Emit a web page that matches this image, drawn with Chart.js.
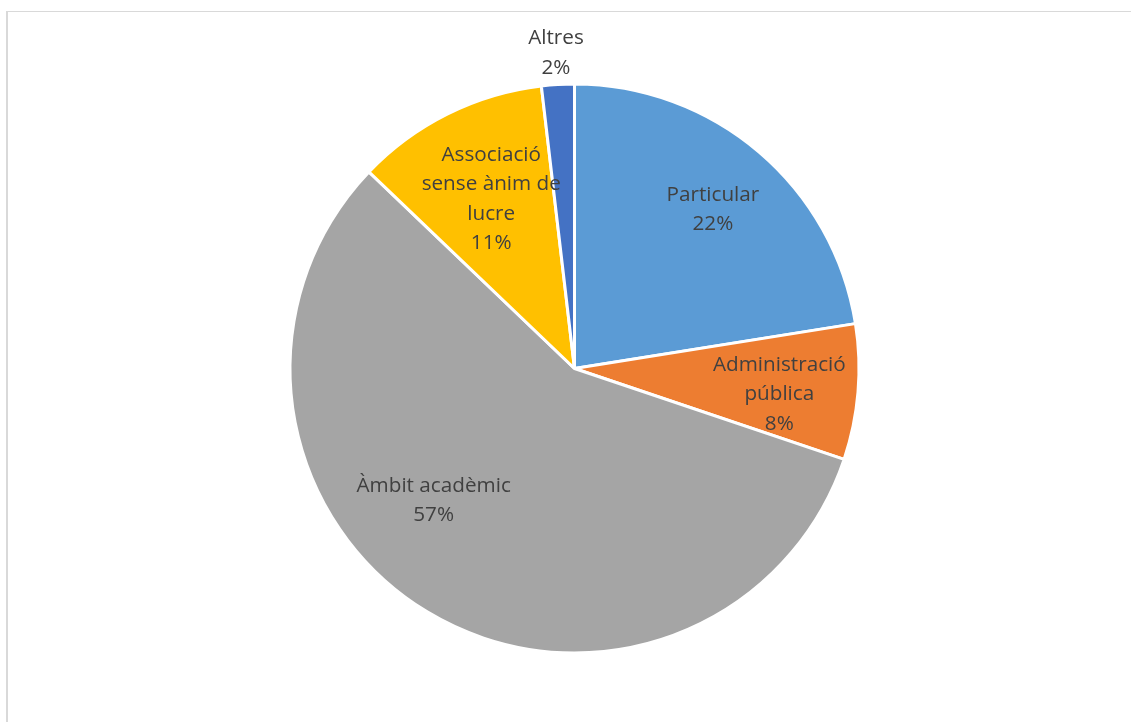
<!DOCTYPE html>
<html>
<head>
<meta charset="utf-8">
<script src="https://cdn.jsdelivr.net/npm/chart.js@4/dist/chart.umd.min.js"></script>
<style>
    html, body { margin: 0; padding: 0; background: #ffffff; overflow: hidden; }
    #wrap { position: relative; width: 1131px; height: 722px; overflow: hidden; }
    #frame {
        position: absolute; left: 6px; top: 11px; width: 1200px; height: 800px;
        border-top: 1px solid #d9d9d9; border-left: 2px solid #d9d9d9;
    }
    #myChart { position: absolute; left: 0; top: 0; }
</style>
</head>
<body>
<div id="wrap">
    <div id="frame"></div>
    <canvas id="myChart" width="1131" height="722"></canvas>
</div>
<script>
// Data (share of answers, %)
const categories = ['Particular', 'Administració pública', 'Àmbit acadèmic', 'Associació sense ànim de lucre', 'Altres'];
const shares = [22.49, 7.7, 57.0, 11.0, 1.86];
// how each data label wraps
const labelLines = [
    ['Particular'],
    ['Administració', 'pública'],
    ['Àmbit acadèmic'],
    ['Associació', 'sense ànim de', 'lucre'],
    ['Altres']
];
const sliceColors = ['#5b9bd5', '#ed7d31', '#a5a5a5', '#ffc000', '#4472c4'];

// label placement: fraction of radius, and small turn (degrees) off the slice middle
const labelRadius = [0.745, 0.725, 0.675, 0.668, 1.115];
const labelTurn = [0.3, 2.0, 16, 0.5, 0];

const total = shares.reduce(function(a, b) { return a + b; }, 0);

const pieLabels = {
    id: 'pieLabels',
    afterDatasetsDraw: function(chart) {
        const ctx = chart.ctx;
        const arcs = chart.getDatasetMeta(0).data;
        ctx.save();
        ctx.font = '20.7px "Open Sans"';
        ctx.fillStyle = '#404040';
        ctx.textAlign = 'center';
        ctx.textBaseline = 'middle';
        const lineH = 29.5;
        arcs.forEach(function(arc, i) {
            const p = arc.getProps(['x', 'y', 'startAngle', 'endAngle', 'outerRadius'], true);
            const mid = (p.startAngle + p.endAngle) / 2 + labelTurn[i] * Math.PI / 180;
            const r = p.outerRadius * labelRadius[i];
            const cx = p.x + Math.cos(mid) * r;
            const cy = p.y + Math.sin(mid) * r + 1.5;
            const lines = labelLines[i].concat([Math.round(shares[i] / total * 100) + '%']);
            const top = cy - (lines.length - 1) * lineH / 2;
            lines.forEach(function(t, k) {
                ctx.fillText(t, cx, top + k * lineH);
            });
        });
        ctx.restore();
    }
};

const config = {
    type: 'pie',
    data: {
        labels: categories,
        datasets: [{
            data: shares,
            backgroundColor: sliceColors,
            borderColor: '#ffffff',
            borderWidth: 3
        }]
    },
    options: {
        responsive: false,
        animation: false,
        radius: 284.5,
        layout: { padding: { left: 18, right: 0, top: 15, bottom: 0 } },
        plugins: {
            legend: { display: false },
            tooltip: { enabled: false }
        }
    },
    plugins: [pieLabels]
};

const myChart = new Chart(document.getElementById('myChart'), config);
</script>
</body>
</html>
